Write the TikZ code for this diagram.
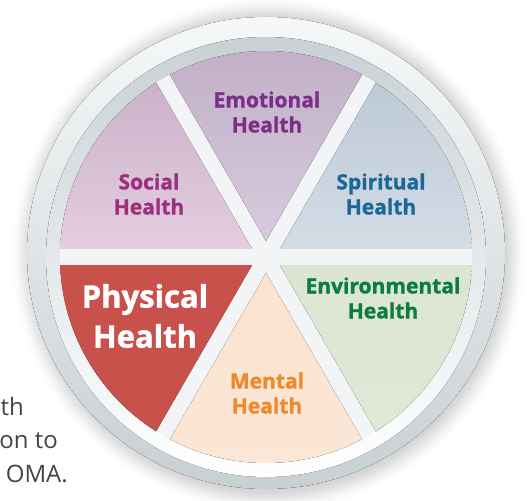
\documentclass[tikz,border=0pt]{standalone}
\usepackage{fontspec}
\setmainfont{Open Sans}[BoldFeatures={FakeBold=1.3}]
\usetikzlibrary{positioning}

\definecolor{rimlight}{HTML}{F6F8F8}
\definecolor{rimdark}{HTML}{C8D0D4}
\definecolor{hubtop}{HTML}{C9D1D5}
\definecolor{hubmid}{HTML}{F1F3F4}
\definecolor{hubface}{HTML}{F2F4F5}
\definecolor{socialA}{HTML}{CBB2C9}
\definecolor{socialB}{HTML}{E4CDE0}
\definecolor{emoA}{HTML}{C0AFC6}
\definecolor{emoB}{HTML}{D9CADD}
\definecolor{spiritA}{HTML}{BDC9D6}
\definecolor{spiritB}{HTML}{D3DDE6}
\definecolor{physA}{HTML}{C8514C}
\definecolor{mentA}{HTML}{FBE3CF}
\definecolor{mentB}{HTML}{FBE7D7}
\definecolor{envA}{HTML}{DBE5D2}
\definecolor{envB}{HTML}{E0E8D8}
\definecolor{socialtxt}{HTML}{9E2F7E}
\definecolor{emotxt}{HTML}{7D2E86}
\definecolor{spirittxt}{HTML}{1C6998}
\definecolor{menttxt}{HTML}{EE892C}
\definecolor{envtxt}{HTML}{0B7D3E}
\definecolor{sidegrey}{HTML}{444444}

\pgfdeclareradialshading{wheelshadow}{\pgfpoint{0bp}{0bp}}{%
  color(0bp)=(black!20); color(23bp)=(black!16); color(23.8bp)=(black!8);
  color(24.5bp)=(black!2); color(25bp)=(white)}

\begin{document}
\begin{tikzpicture}[x=1pt, y=1pt,
  txt/.style = {font=\bfseries\fontsize{21}{25}\selectfont, align=center, inner sep=0pt},
  side/.style = {font=\fontsize{24}{30}\selectfont, text=sidegrey, inner sep=0pt, anchor=base east}]
	\useasboundingbox (-266,-243) rectangle (263,257);

	\node[side] (th) at (-242,-158) {th};
	\node[side] (onto) at (-208,-191) {on to};
	\node[side] (oma) at (-198,-225) {OMA.};

	\shade[shading=wheelshadow] (2,3) circle (258);
	\fill[top color=rimlight, bottom color=rimdark] (0,4) ellipse [x radius=239, y radius=236];
	\fill[top color=hubtop, middle color=hubmid, bottom color=white] (0,0) circle (220);
	\fill[hubface] (0,0) circle (206);

	\foreach \a/\ca/\cb in {0/spiritA/spiritB, 60/emoA/emoB, 120/socialA/socialB,
	                        180/physA/physA, 240/mentA/mentB, 300/envA/envB}
		\fill[top color=\ca, bottom color=\cb] ({\a+30}:16) -- ({\a+2.23}:206)
			arc[start angle={\a+2.23}, end angle={\a+57.77}, radius=206] -- cycle;

	\node[txt, text=emotxt] (emotional) at (1,145) {Emotional\\Health};
	\node[txt, text=spirittxt] (spiritual) at (115,63) {Spiritual\\Health};
	\node[txt, text=socialtxt] (social) at (-117,63) {Social\\Health};
	\node[txt, text=white, font=\bfseries\fontsize{31}{40}\selectfont] (physical) at (-121,-59) {Physical\\Health};
	\node[txt, text=envtxt] (environmental) at (117,-41) {Environmental\\Health};
	\node[txt, text=menttxt] (mental) at (1,-136) {Mental\\Health};
\end{tikzpicture}
\end{document}
